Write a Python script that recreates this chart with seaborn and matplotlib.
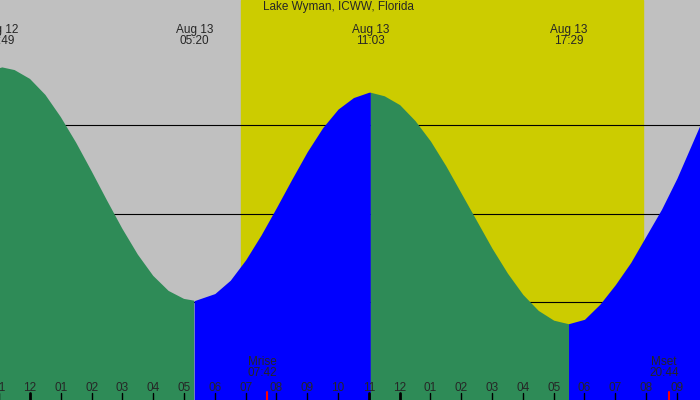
import matplotlib
matplotlib.use('Agg')
import matplotlib.pyplot as plt
import seaborn as sns
import numpy as np

sns.set_style("white")
plt.rcParams['font.family'] = ['Liberation Sans', 'DejaVu Sans']

# hours since Aug 13 00:00, tide height in ft
hours = [-1.0, -0.9, -0.5, 0, 0.5, 1, 1.5, 2, 2.5, 3, 3.5, 4, 4.5, 5, 5.33, 6, 6.5, 7, 7.5, 8, 8.5, 9,
         9.5, 10, 10.5, 11, 11.05, 11.5, 12, 12.5, 13, 13.5, 14, 14.5, 15, 15.5, 16, 16.5, 17, 17.48,
         18, 18.5, 19, 19.5, 20, 20.5, 21, 21.75]
heights = [2.64, 2.65, 2.62, 2.52, 2.34, 2.09, 1.80, 1.48, 1.15, 0.83, 0.54, 0.30, 0.13, 0.04, 0.02,
           0.10, 0.25, 0.48, 0.76, 1.07, 1.39, 1.70, 1.97, 2.18, 2.31, 2.37, 2.37, 2.33, 2.23, 2.05,
           1.82, 1.54, 1.23, 0.92, 0.61, 0.33, 0.09, -0.09, -0.20, -0.24, -0.19, -0.02, 0.20, 0.45,
           0.75, 1.05, 1.40, 2.0]
turns = [-0.9, 5.33, 11.05, 17.48]
daylight = (6.85, 19.9)
top_labels = [(-0.97, "Aug 12\n23:49"), (5.33, "Aug 13\n05:20"),
              (11.05, "Aug 13\n11:03"), (17.48, "Aug 13\n17:29")]
moon = [(7.7, "Mrise\n07:42"), (20.73, "Mset\n20:44")]
hour_labels = ["11", "12", "01", "02", "03", "04", "05", "06", "07", "08", "09", "10",
               "11", "12", "01", "02", "03", "04", "05", "06", "07", "08", "09"]
ft_levels = [0, 1, 2]

x0, x1 = -0.974, 21.75
y0, y1 = -1.1, 3.41
fig, ax = plt.subplots(figsize=(7, 4), dpi=100, facecolor="#c0c0c0")
fig.subplots_adjust(0, 0, 1, 1)
ax.axvspan(*daylight, color="#cccc00", zorder=0)
for lv in ft_levels:
    ax.axhline(lv, color="black", lw=0.8, zorder=1)
    ax.text(x0 + 0.05, lv + 0.04, f"{lv} ft", fontsize=8.5, va="bottom", zorder=1)

h = np.array(hours); v = np.array(heights)
bounds = [h[0]] + turns[1:] + [h[-1]]
for j in range(len(bounds) - 1):
    m = (h >= bounds[j]) & (h <= bounds[j + 1])
    col = "#0000ff" if j % 2 == 1 else "#2e8b57"
    ax.fill_between(h[m], v[m], y0 - 1, color=col, lw=0, zorder=2)

for t, s in top_labels:
    ax.text(t, y1 - 0.27, s, ha="center", va="top", fontsize=8.5, linespacing=0.95, zorder=5)
ax.text(10.0, y1 - 0.01, "Lake Wyman, ICWW, Florida", ha="center", va="top", fontsize=8.5, zorder=5)
for t, s in moon:
    ax.text(t - 0.15, -0.6, s, ha="center", va="top", fontsize=8.5, linespacing=0.95, zorder=5)
    ax.plot([t, t], [y0, y0 + 0.09], color="red", lw=1.5, zorder=5)
for k, s in enumerate(hour_labels):
    t = k - 1
    ax.text(t, -0.97, s, ha="center", va="center", fontsize=8.5, zorder=5)
    lw = 2 if s == "12" or (s == "11" and k > 0) else 1
    ax.plot([t, t], [y0, y0 + 0.08], color="black", lw=lw, zorder=5)

ax.set_xlim(x0, x1)
ax.set_ylim(y0, y1)
ax.axis("off")
fig.savefig("out.png", dpi=100, facecolor="#c0c0c0")
